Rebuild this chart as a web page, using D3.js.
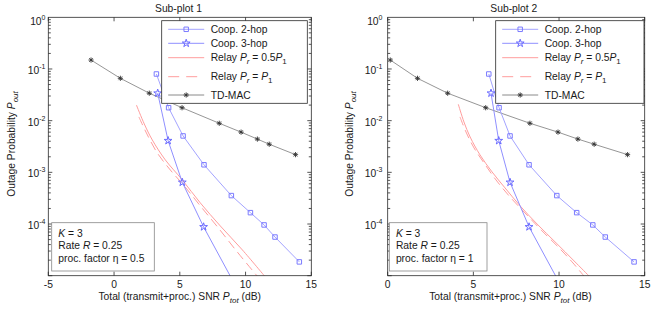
<!DOCTYPE html>
<html>
<head>
<meta charset="utf-8">
<script src="https://cdn.jsdelivr.net/npm/d3@7"></script>
<style>
  body { margin: 0; background: #fff; }
  text { font-family: "Liberation Sans", Arial, sans-serif; font-size: 10.3px; fill: #1a1a1a; }
</style>
</head>
<body>
<svg id="chart" width="661" height="310"></svg>
<script>
// ---- data ----
const panelTitles = ['Sub-plot 1', 'Sub-plot 2']
const etaValues = ['0.5', '1']
const yTickPowers = [0, -1, -2, -3, -4]
const xTicks1 = [-5, 0, 5, 10, 15]
const xTicks2 = [0, 5, 10, 15]

const tdmacP = [0.149, 0.066, 0.034, 0.0178, 0.0089, 0.0060, 0.0044, 0.0035, 0.0022]
const tdmacSnr1 = [-1.75, 0.48, 2.68, 5.17, 8.0, 9.66, 10.9, 11.8, 13.8]
const tdmacSnr2 = [0.15, 1.74, 3.5, 5.72, 8.3, 9.94, 11.1, 12.05, 14.0]

const coop2P = [0.080, 0.0178, 0.00506, 0.0014, 3.55e-4, 1.66e-4, 9.6e-5, 5.6e-5, 1.85e-5]
const coop2Snr1 = [3.22, 4.15, 5.25, 6.84, 8.92, 10.37, 11.41, 12.24, 14.09]
const coop2Snr2 = [5.9, 6.5, 7.14, 8.25, 9.87, 11.03, 11.97, 12.7, 14.38]

const coop3P = [0.034, 0.0041, 6.4e-4, 8.8e-5, 9e-6]
const coop3Snr1 = [3.32, 4.11, 5.19, 6.81, 8.92]
const coop3Snr2 = [6.03, 6.48, 7.14, 8.25, 9.87]

const relayHalfSnr1 = [1.70, 2.30, 2.91, 3.90, 5.19, 6.56, 8.08, 9.76, 11.45]
const relayHalfP1 = [0.0201, 0.00863, 0.00423, 0.00174, 7.13e-4, 2.56e-4, 9.18e-5, 3.15e-5, 9.8e-6]
const relayFullSnr1 = [1.89, 2.46, 3.29, 4.28, 5.34, 6.56, 7.93, 9.37, 10.89]
const relayFullP1 = [0.0118, 0.00578, 0.00237, 0.00111, 5.46e-4, 2.24e-4, 8.4e-5, 2.88e-5, 9.8e-6]

const relayHalfSnr2 = [4.12, 4.45, 4.81, 5.39, 6.09, 6.85, 7.73, 8.72, 9.83, 10.88, 11.76]
const relayHalfP2 = [0.0208, 0.00944, 0.00484, 0.00217, 0.00102, 4.99e-4, 2.24e-4, 1.0e-4, 4.31e-5, 1.93e-5, 9.8e-6]
const relayFullSnr2 = [4.22, 4.57, 5.04, 5.62, 6.32, 7.14, 8.01, 9.01, 10.06, 10.76, 11.46]
const relayFullP2 = [0.0118, 0.00604, 0.00296, 0.00152, 7.13e-4, 3.34e-4, 1.64e-4, 7.35e-5, 3.3e-5, 1.85e-5, 9.8e-6]

// ---- styles ----
const colours = {
  coop2: '#a3a3ff',
  coop2Marker: '#7b7bff',
  coop3: '#8f8fff',
  coop3Marker: '#6a6aff',
  relay: '#ff9d9d',
  tdmac: '#8a8a8a',
  tdmacMarker: '#333',
  frame: '#2a2a2a'
}

const svg = d3.select('#chart')
const axTop = 17.3
const axBottom = 275.7

const panels = [
  {
    x0: 48.3, x1: 311.3, domain: [-5, 15], ticks: xTicks1,
    titleX: 178.5, xLabelX: 179.7, yLabelX: 15, tickEnd: 45.5,
    legend: { x0: 161.7, x1: 307.3 },
    note: { x0: 51.7, x1: 154.3 },
    series: {
      tdmac: [tdmacSnr1, tdmacP], coop2: [coop2Snr1, coop2P], coop3: [coop3Snr1, coop3P],
      relayHalf: [relayHalfSnr1, relayHalfP1], relayFull: [relayFullSnr1, relayFullP1]
    }
  },
  {
    x0: 387.7, x1: 644.7, domain: [0, 15], ticks: xTicks2,
    titleX: 513.8, xLabelX: 510.5, yLabelX: 353, tickEnd: 382.5,
    legend: { x0: 495.7, x1: 644 },
    note: { x0: 389.3, x1: 487 },
    series: {
      tdmac: [tdmacSnr2, tdmacP], coop2: [coop2Snr2, coop2P], coop3: [coop3Snr2, coop3P],
      relayHalf: [relayHalfSnr2, relayHalfP2], relayFull: [relayFullSnr2, relayFullP2]
    }
  }
]

// write a run of styled pieces into a <text>
function richText (sel, parts) {
  parts.forEach(p => {
    const t = sel.append('tspan').text(p.t)
    if (p.i) t.attr('font-style', 'italic')
    if (p.sub) t.attr('font-size', 8).attr('dy', 3)
    if (p.up) t.attr('dy', -3)
  })
  return sel
}

function drawMarker (g, kind, x, y) {
  if (kind === 'square') {
    g.append('path')
      .attr('d', d3.symbol(d3.symbolSquare, 20)())
      .attr('transform', `translate(${x},${y})`)
      .attr('fill', 'none')
      .attr('stroke', colours.coop2Marker)
  } else if (kind === 'star') {
    g.append('path')
      .attr('d', d3.symbol(d3.symbolStar, 19)())
      .attr('transform', `translate(${x},${y})`)
      .attr('fill', 'none')
      .attr('stroke', colours.coop3Marker)
  } else {
    const r = 2.6
    const q = r * 0.7
    g.append('path')
      .attr('d', `M${x - r},${y}H${x + r}M${x},${y - r}V${y + r}M${x - q},${y - q}L${x + q},${y + q}M${x - q},${y + q}L${x + q},${y - q}`)
      .attr('stroke', colours.tdmacMarker)
      .attr('stroke-width', 0.9)
  }
}

panels.forEach((p, idx) => {
  const x = d3.scaleLinear().domain(p.domain).range([p.x0, p.x1])
  const y = d3.scaleLog().domain([1e-5, 1]).range([axBottom, axTop])
  const g = svg.append('g').attr('class', `panel-${idx + 1}`)

  const clipId = `clip-${idx}`
  svg.append('clipPath').attr('id', clipId)
    .append('rect')
    .attr('x', p.x0).attr('y', axTop)
    .attr('width', p.x1 - p.x0).attr('height', axBottom - axTop)

  // ticks: x majors on bottom and top, y majors + log minors on both sides
  const ticks = g.append('g').attr('stroke', colours.frame).attr('stroke-width', 0.8)
  p.ticks.forEach(v => {
    ticks.append('line').attr('x1', x(v)).attr('x2', x(v)).attr('y1', axBottom).attr('y2', axBottom - 4)
    ticks.append('line').attr('x1', x(v)).attr('x2', x(v)).attr('y1', axTop).attr('y2', axTop + 4)
  })
  for (let e = -5; e < 0; e++) {
    for (let k = 1; k < 10; k++) {
      const v = k * Math.pow(10, e)
      const len = k === 1 ? 4 : 2.5
      ticks.append('line').attr('x1', p.x0).attr('x2', p.x0 + len).attr('y1', y(v)).attr('y2', y(v))
      ticks.append('line').attr('x1', p.x1).attr('x2', p.x1 - len).attr('y1', y(v)).attr('y2', y(v))
    }
  }

  // tick labels
  p.ticks.forEach(v => {
    g.append('text')
      .attr('x', x(v)).attr('y', 287.5)
      .attr('text-anchor', 'middle')
      .text(v)
  })
  yTickPowers.forEach(e => {
    const t = g.append('text')
      .attr('x', p.tickEnd)
      .attr('y', y(Math.pow(10, e)) + (e === 0 ? 7.5 : 5))
      .attr('text-anchor', 'end')
    t.append('tspan').text('10')
    t.append('tspan').text(e === 0 ? '0' : `-${-e}`)
      .attr('font-size', 7).attr('dy', -5)
  })

  // series
  const plot = g.append('g').attr('clip-path', `url(#${clipId})`)
  const line = d3.line().x(d => x(d[0])).y(d => y(d[1]))
  const smooth = d3.line().x(d => x(d[0])).y(d => y(d[1])).curve(d3.curveCatmullRom)
  const pts = ([xs, ys]) => xs.map((v, i) => [v, ys[i]])

  plot.append('path').attr('d', smooth(pts(p.series.relayHalf)))
    .attr('fill', 'none').attr('stroke', colours.relay)
  plot.append('path').attr('d', smooth(pts(p.series.relayFull)))
    .attr('fill', 'none').attr('stroke', colours.relay).attr('stroke-dasharray', '9,5')

  plot.append('path').attr('d', line(pts(p.series.tdmac)))
    .attr('fill', 'none').attr('stroke', colours.tdmac).attr('stroke-width', 0.9)
  pts(p.series.tdmac).forEach(d => drawMarker(plot, 'asterisk', x(d[0]), y(d[1])))

  plot.append('path').attr('d', line(pts(p.series.coop2)))
    .attr('fill', 'none').attr('stroke', colours.coop2)
  pts(p.series.coop2).forEach(d => drawMarker(plot, 'square', x(d[0]), y(d[1])))

  plot.append('path').attr('d', line(pts(p.series.coop3)))
    .attr('fill', 'none').attr('stroke', colours.coop3)
  pts(p.series.coop3).filter(d => d[1] >= 1e-5).forEach(d => drawMarker(plot, 'star', x(d[0]), y(d[1])))

  // frame
  g.append('rect')
    .attr('x', p.x0).attr('y', axTop)
    .attr('width', p.x1 - p.x0).attr('height', axBottom - axTop)
    .attr('fill', 'none').attr('stroke', colours.frame).attr('stroke-width', 0.8)

  // title and axis labels
  g.append('text').attr('x', p.titleX).attr('y', 11.5)
    .attr('text-anchor', 'middle').text(panelTitles[idx])

  richText(g.append('text').attr('x', p.xLabelX).attr('y', 300).attr('text-anchor', 'middle'), [
    { t: 'Total (transmit+proc.) SNR ' }, { t: 'P', i: true }, { t: 'tot', i: true, sub: true }, { t: ' (dB)', up: true }
  ])

  richText(g.append('text')
    .attr('transform', `translate(${p.yLabelX},144) rotate(-90)`)
    .attr('text-anchor', 'middle'), [
    { t: 'Outage Probability ' }, { t: 'P', i: true }, { t: 'out', i: true, sub: true }
  ])

  // legend
  const lg = g.append('g')
  lg.append('rect')
    .attr('x', p.legend.x0).attr('y', 20.7)
    .attr('width', p.legend.x1 - p.legend.x0).attr('height', 82.6)
    .attr('fill', '#fff').attr('stroke', colours.frame).attr('stroke-width', 0.8)
  const lx0 = p.legend.x0 + 6.5
  const lx1 = lx0 + 36
  const lmid = (lx0 + lx1) / 2
  const rows = [
    { y: 29.3, stroke: colours.coop2, marker: 'square', parts: [{ t: 'Coop. 2-hop' }] },
    { y: 43.3, stroke: colours.coop3, marker: 'star', parts: [{ t: 'Coop. 3-hop' }] },
    { y: 57.7, stroke: colours.relay, parts: [{ t: 'Relay ' }, { t: 'P', i: true }, { t: 'r', i: true, sub: true }, { t: ' = 0.5', up: true }, { t: 'P', i: true }, { t: '1', sub: true }] },
    { y: 76.7, stroke: colours.relay, dash: '11,7', parts: [{ t: 'Relay ' }, { t: 'P', i: true }, { t: 'r', i: true, sub: true }, { t: ' = ', up: true }, { t: 'P', i: true }, { t: '1', sub: true }] },
    { y: 95, stroke: colours.tdmac, marker: 'asterisk', parts: [{ t: 'TD-MAC' }] }
  ]
  rows.forEach(r => {
    lg.append('line')
      .attr('x1', lx0).attr('x2', lx1).attr('y1', r.y).attr('y2', r.y)
      .attr('stroke', r.stroke)
      .attr('stroke-dasharray', r.dash || null)
    if (r.marker) drawMarker(lg, r.marker, lmid, r.y)
    richText(lg.append('text').attr('x', lx1 + 6.5).attr('y', r.y + 3.6), r.parts)
  })

  // parameter box
  const nb = g.append('g')
  nb.append('rect')
    .attr('x', p.note.x0).attr('y', 222.7)
    .attr('width', p.note.x1 - p.note.x0).attr('height', 48.3)
    .attr('fill', '#fff').attr('stroke', '#888').attr('stroke-width', 0.8)
  const noteLines = [
    [{ t: 'K', i: true }, { t: ' = 3' }],
    [{ t: 'Rate ' }, { t: 'R', i: true }, { t: ' = 0.25' }],
    [{ t: 'proc. factor η = ' + etaValues[idx] }]
  ]
  noteLines.forEach((parts, i) => {
    richText(nb.append('text').attr('x', p.note.x0 + 6.6).attr('y', 236.5 + i * 12.8), parts)
  })
})
</script>
</body>
</html>
